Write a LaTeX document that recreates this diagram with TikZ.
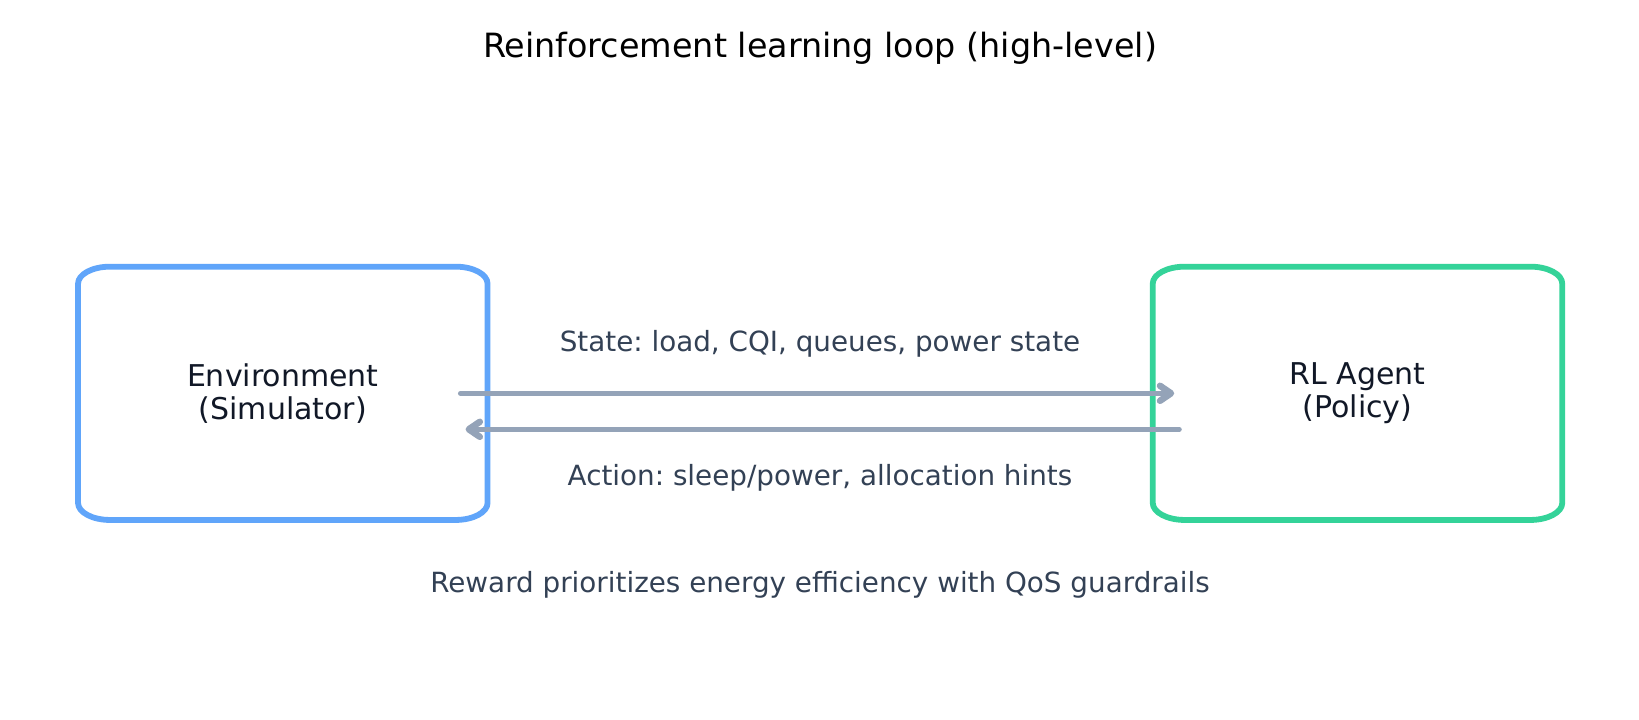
\documentclass[tikz,border=0pt]{standalone}
\usepackage{fontspec}
\setmainfont{DejaVu Sans}
\frenchspacing
\usetikzlibrary{arrows.meta,positioning}
\definecolor{envblue}{HTML}{60A5FA}
\definecolor{agentgreen}{HTML}{34D399}
\definecolor{flowgray}{HTML}{94A3B8}
\definecolor{lblgray}{HTML}{334155}
\definecolor{boxtext}{HTML}{111827}
\tikzset{
  every picture/.style={x=1pt, y=-1pt, line cap=round, line join=round,
    >={Straight Barb[length=11pt,width=15pt,line width=6.5pt,round]}},
  % Kästen
  block/.style={minimum width=409.5pt, minimum height=253.3pt, align=center, text=boxtext,
    font=\fontsize{30}{32.6}\selectfont, inner sep=0pt, outer sep=0pt},
  rim/.style={line width=5.8pt},
  % Pfeile
  flow/.style={flowgray, line width=5pt, ->},
  % Beschriftung
  lbl/.style={text=lblgray, font=\fontsize{27.8}{31}\selectfont, anchor=base, inner sep=0pt},
}
\begin{document}
\begin{tikzpicture}
  \fill[white] (0,0) rectangle (1639,720);
  \useasboundingbox (0,0) rectangle (1639,720);
  \node[anchor=base, inner sep=0pt, font=\fontsize{33.4}{36}\selectfont] (title) at (820,57.3)
    {Reinforcement learning loop (high-level)};
  \node[block] (env) at (282.8,393.3) {Environment\\(Simulator)};
  \node[block] (agent) at (1357.5,393.3) {RL Agent\\(Policy)};
  % Rahmen mit flachen Ecken
  \foreach \b/\c in {env/envblue, agent/agentgreen}
    \draw[rim, \c] ([xshift=32pt]\b.north west) -- ([xshift=-32pt]\b.north east)
      arc[start angle=90, end angle=0, x radius=32pt, y radius=17pt]
      -- ([yshift=17pt]\b.south east)
      arc[start angle=0, end angle=-90, x radius=32pt, y radius=17pt]
      -- ([xshift=32pt]\b.south west)
      arc[start angle=270, end angle=180, x radius=32pt, y radius=17pt]
      -- ([yshift=-17pt]\b.north west)
      arc[start angle=180, end angle=90, x radius=32pt, y radius=17pt] -- cycle;
  \draw[flow] ([xshift=-27.1pt]env.east) -- ([xshift=21.5pt]agent.west);
  \draw[flow] ([xshift=26.5pt,yshift=-36pt]agent.west) -- ([xshift=-22pt,yshift=-36pt]env.east);
  \node[lbl] (state) at (820,351.7) {State: load, CQI, queues, power state};
  \node[lbl] (action) at (820,485) {Action: sleep/power, allocation hints};
  \node[lbl] (reward) at (820,592.7) {Reward prioritizes energy efficiency with QoS guardrails};
\end{tikzpicture}
\end{document}
